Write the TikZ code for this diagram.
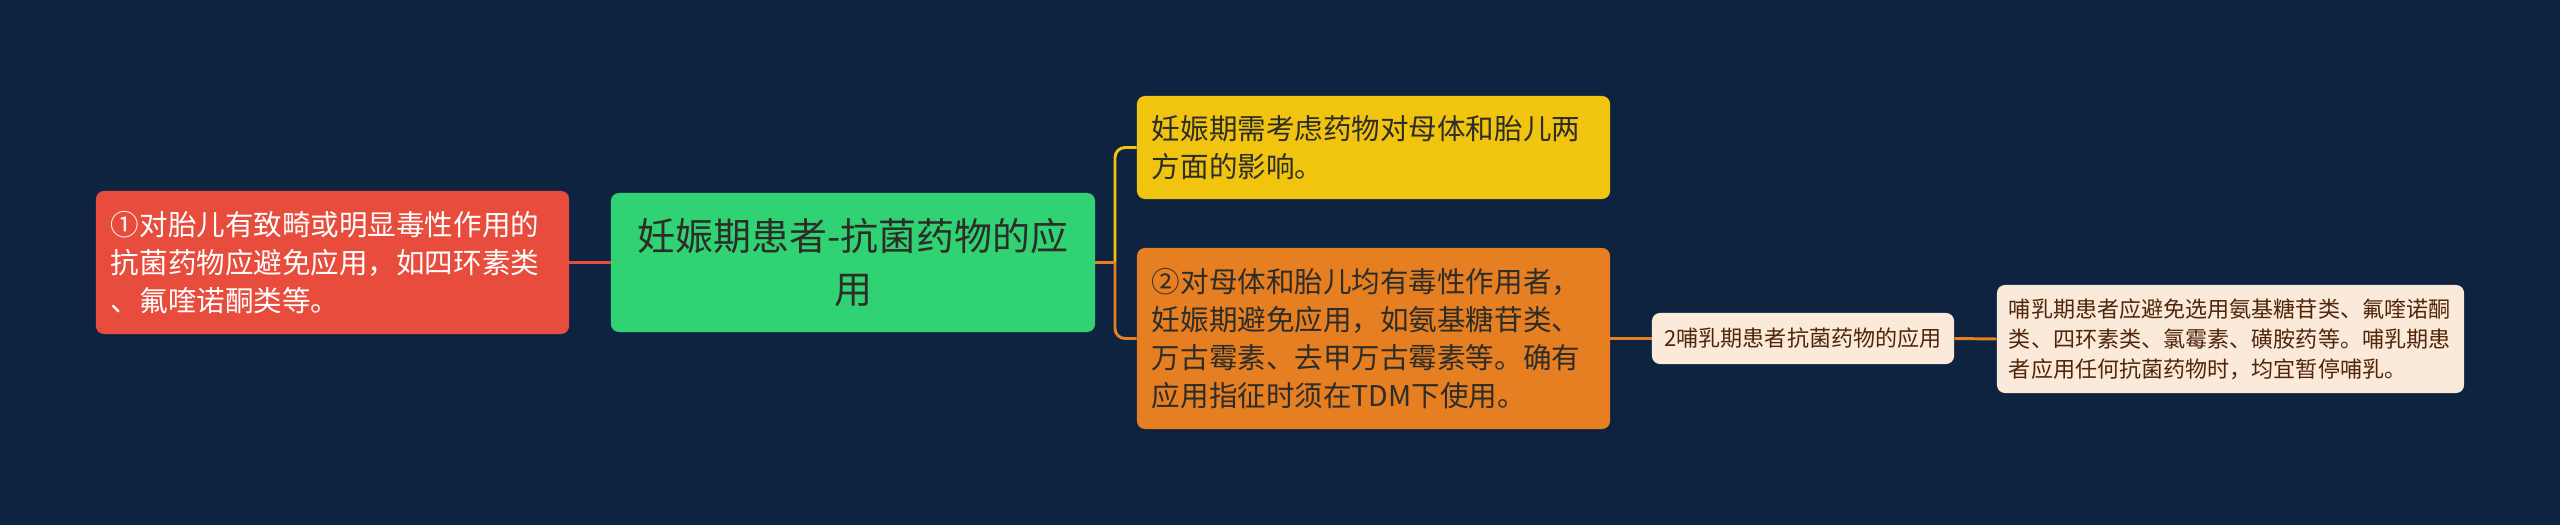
\documentclass[tikz,border=0pt]{standalone}
\usepackage{fontspec}
\newfontfamily\cjk{Noto Sans CJK SC}
\definecolor{bgc}{RGB}{14,35,64}
\definecolor{redc}{RGB}{231,76,60}
\definecolor{greenc}{RGB}{48,210,116}
\definecolor{yellowc}{RGB}{241,196,15}
\definecolor{orangec}{RGB}{230,126,34}
\definecolor{creamc}{RGB}{251,233,217}
\definecolor{darktxt}{RGB}{45,45,40}
\definecolor{browntxt}{RGB}{80,38,10}
\tikzset{
  box/.style={rounded corners=0.2cm, inner ysep=0pt, inner xsep=0.375cm, align=left, anchor=center},
  bigfont/.style={font=\cjk\fontsize{20.3}{27}\selectfont},
  smallfont/.style={font=\cjk\fontsize{15.7}{21.4}\selectfont},
  conn/.style={line width=2.1pt},
}
\begin{document}
\begin{tikzpicture}[x=0.025cm,y=-0.025cm]
\fill[bgc] (0,0) rectangle (2560,525);
\useasboundingbox (0,0) rectangle (2560,525);

\node[box, bigfont, fill=redc, text=white, text width=11.075cm, minimum height=3.575cm] (red) at (332.5,262.5)
  {①对胎儿有致畸或明显毒性作用的\\抗菌药物应避免应用，如四环素类\\、氟喹诺酮类等。};

\node[box, fill=greenc, text=darktxt, align=center, font=\cjk\fontsize{27}{37}\selectfont, text width=11.6cm, inner xsep=0.25cm, minimum height=3.475cm] (green) at (853,262.5)
  {妊娠期患者-抗菌药物的应\\用};

\node[box, bigfont, fill=yellowc, text=darktxt, text width=11.075cm, minimum height=2.575cm] (yellow) at (1373.5,147.5)
  {妊娠期需考虑药物对母体和胎儿两\\方面的影响。};

\node[box, bigfont, fill=orangec, text=darktxt, text width=11.075cm, minimum height=4.525cm] (orange) at (1373.5,338.5)
  {②对母体和胎儿均有毒性作用者，\\妊娠期避免应用，如氨基糖苷类、\\万古霉素、去甲万古霉素等。确有\\应用指征时须在TDM下使用。};

\node[box, smallfont, fill=creamc, text=browntxt, align=center, inner xsep=0.3cm, minimum width=7.55cm, minimum height=1.275cm] (small) at (1803,338.5)
  {2哺乳期患者抗菌药物的应用};

\node[box, smallfont, fill=creamc, text=browntxt, inner xsep=0.3cm, text width=11.075cm, minimum height=2.7cm] (right) at (2230.5,339)
  {哺乳期患者应避免选用氨基糖苷类、氟喹诺酮\\类、四环素类、氯霉素、磺胺药等。哺乳期患\\者应用任何抗菌药物时，均宜暂停哺乳。};

\coordinate (trunk) at (1115,262.5);

\draw[conn, redc] (red.east) -- (green.west);
\draw[conn, yellowc, rounded corners=0.25cm] (trunk) |- (yellow.west);
\draw[conn, orangec, rounded corners=0.25cm] (trunk) |- (orange.west);
\draw[conn, orangec] (green.east) -- (trunk);
\draw[conn, orangec] (orange.east) -- (small.west);
\draw[conn, orangec] (small.east) -- (right.west);
\end{tikzpicture}
\end{document}
